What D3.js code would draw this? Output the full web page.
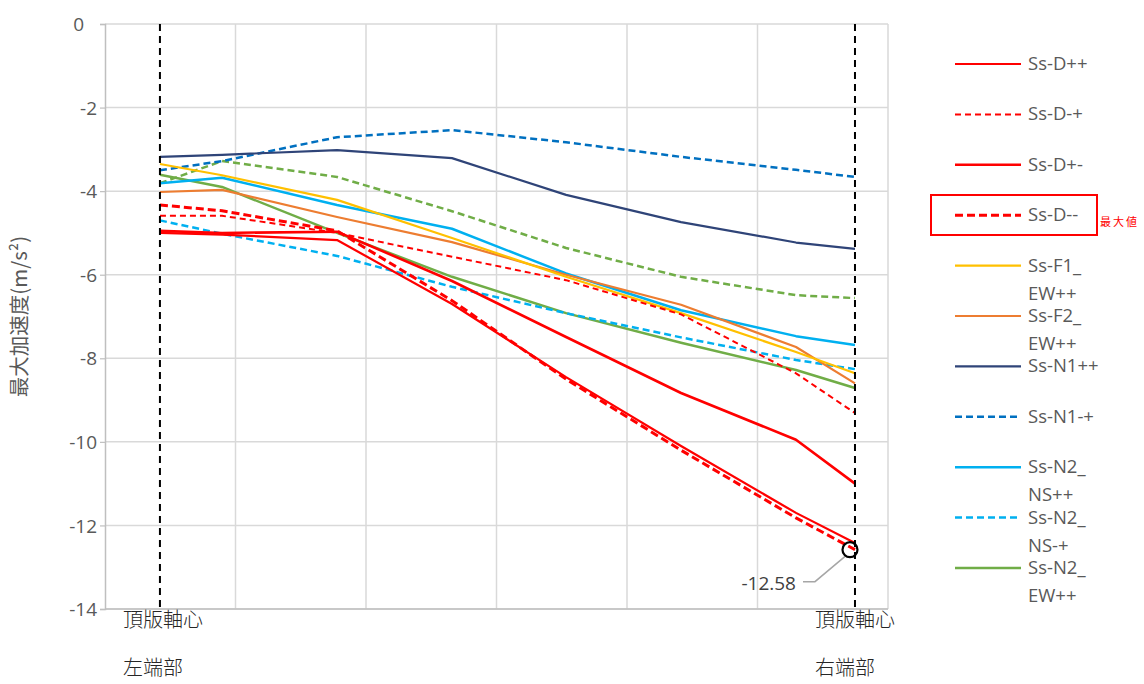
<!DOCTYPE html>
<html><head><meta charset="utf-8">
<script src="https://cdn.jsdelivr.net/npm/d3@7"></script>
<style>body{margin:0;background:#fff;}svg{display:block;font-family:"Open Sans","Noto Sans",sans-serif;}</style>
</head><body><svg id="c" width="1144" height="684"></svg>
<script>
// positions along the slab (axis units; gridlines at integers)
const positions = [0.421, 0.897, 1.778, 2.659, 3.533, 4.414, 5.295, 5.747];
const seriesNames = ["Ss-D++","Ss-D-+","Ss-D+-","Ss-D--","Ss-F1_EW++","Ss-F2_EW++","Ss-N1++","Ss-N1-+","Ss-N2_NS++","Ss-N2_NS-+","Ss-N2_EW++","Ss-N2_EW-+"];
const sD_pp  = [-5.00,-5.04,-5.17,-6.70,-8.45,-10.10,-11.70,-12.42];
const sD_mp  = [-4.59,-4.59,-5.00,-5.57,-6.13,-6.95,-8.36,-9.31];
const sD_pm  = [-4.95,-5.00,-4.97,-6.15,-7.49,-8.83,-9.95,-11.00];
const sD_mm  = [-4.33,-4.47,-4.95,-6.62,-8.50,-10.20,-11.82,-12.58];
const sF1_EW = [-3.35,-3.62,-4.21,-5.12,-6.05,-6.92,-7.85,-8.36];
const sF2_EW = [-4.02,-3.97,-4.62,-5.22,-6.00,-6.72,-7.73,-8.60];
const sN1_pp = [-3.18,-3.13,-3.02,-3.21,-4.09,-4.74,-5.23,-5.38];
const sN1_mp = [-3.50,-3.28,-2.71,-2.54,-2.83,-3.18,-3.49,-3.66];
const sN2_NS = [-3.81,-3.68,-4.33,-4.90,-5.97,-6.85,-7.47,-7.68];
const sN2_NSm= [-4.70,-5.02,-5.55,-6.29,-6.92,-7.50,-8.04,-8.26];
const sN2_EW = [-3.61,-3.90,-5.00,-6.05,-6.92,-7.63,-8.28,-8.71];
const sN2_EWm= [-3.81,-3.28,-3.66,-4.48,-5.36,-6.05,-6.49,-6.56];
const yTicks = [0,-2,-4,-6,-8,-10,-12,-14];
const legendLabels = [["Ss-D++"],["Ss-D-+"],["Ss-D+-"],["Ss-D--"],["Ss-F1_","EW++"],["Ss-F2_","EW++"],["Ss-N1++"],["Ss-N1-+"],["Ss-N2_","NS++"],["Ss-N2_","NS-+"],["Ss-N2_","EW++"]];
const maxValue = -12.58;

const values = [sD_pp,sD_mp,sD_pm,sD_mm,sF1_EW,sF2_EW,sN1_pp,sN1_mp,sN2_NS,sN2_NSm,sN2_EW,sN2_EWm];
const styles = [
  {c:"#ff0000",w:2.2,d:null},
  {c:"#ff0000",w:2,d:"6,4"},
  {c:"#ff0000",w:2.6,d:null},
  {c:"#ff0000",w:3,d:"8,4"},
  {c:"#ffc000",w:2.2,d:null},
  {c:"#ed7d31",w:2.2,d:null},
  {c:"#2f4478",w:2.2,d:null},
  {c:"#0070c0",w:2.5,d:"7,4"},
  {c:"#00b0f0",w:2.5,d:null},
  {c:"#00b0f0",w:2.5,d:"7,4"},
  {c:"#70ad47",w:2.5,d:null},
  {c:"#70ad47",w:2.5,d:"7,4"}
];

const svg = d3.select("#c");
const L=105,R=888,T=24,B=609;
const x = d3.scaleLinear().domain([0,6]).range([L,R]);
const y = d3.scaleLinear().domain([-14,0]).range([B,T]);

// gridlines
const g = svg.append("g");
g.selectAll("line.h").data(yTicks).join("line").attr("x1",L).attr("x2",R)
 .attr("y1",d=>y(d)).attr("y2",d=>y(d)).attr("stroke","#d9d9d9").attr("stroke-width",1.5);
g.selectAll("line.v").data(d3.range(1,7)).join("line").attr("y1",T).attr("y2",B)
 .attr("x1",d=>x(d)).attr("x2",d=>x(d)).attr("stroke","#d9d9d9").attr("stroke-width",1.5);

// y axis
const ya = svg.append("g").attr("transform",`translate(${L},0)`)
 .call(d3.axisLeft(y).tickValues(yTicks).tickSize(5).tickPadding(3).tickFormat(d=>String(d)));
ya.select(".domain").attr("stroke","#bfbfbf").attr("stroke-width",1.5);
ya.selectAll(".tick line").attr("stroke","#bfbfbf").attr("stroke-width",1.2);
ya.selectAll(".tick text").attr("fill","#595959").style("font-size","19px").style("font-family","'Open Sans','Noto Sans',sans-serif").attr("dy","0.35em")
 .attr("dx",d=>d===0?-13:0);
// x axis line
svg.append("line").attr("x1",L).attr("x2",R).attr("y1",B).attr("y2",B).attr("stroke","#bfbfbf").attr("stroke-width",1.5);

// y title
svg.append("text").attr("transform",`translate(27,${(T+B)/2}) rotate(-90)`).attr("text-anchor","middle")
 .attr("fill","#595959").style("font-size","20.5px").style("font-family","'Noto Sans CJK JP','Noto Sans',sans-serif")
 .text("最大加速度(m/s²)");

// series
const line = d3.line().x((d,i)=>x(positions[i])).y(d=>y(d));
const order = [11,10,9,8,7,6,5,4,1,0,2,3];
svg.append("g").selectAll("path").data(order).join("path")
 .attr("d",i=>line(values[i])).attr("fill","none")
 .attr("stroke",i=>styles[i].c).attr("stroke-width",i=>styles[i].w)
 .attr("stroke-dasharray",i=>styles[i].d).attr("stroke-linejoin","round");

// end dashed verticals
[positions[0],positions[positions.length-1]].forEach(p=>{
  svg.append("line").attr("x1",x(p)).attr("x2",x(p)).attr("y1",T).attr("y2",B)
   .attr("stroke","#000").attr("stroke-width",2).attr("stroke-dasharray","7,5");
});

// bottom labels
const lab = svg.append("g").style("font-family","'Noto Sans CJK TC','Noto Sans CJK JP',sans-serif").style("font-size","20px").style("font-weight","300").attr("fill","#262626");
lab.append("text").attr("x",123).attr("y",627).text("頂版軸心");
lab.append("text").attr("x",123).attr("y",675).text("左端部");
lab.append("text").attr("x",815).attr("y",627).text("頂版軸心");
lab.append("text").attr("x",815).attr("y",675).text("右端部");

// annotation
const cx = x(positions[7])-5, cy = y(maxValue);
svg.append("polyline").attr("points",`${cx-4},${cy+6} ${cx-35},${cy+32} ${cx-47},${cy+32}`)
 .attr("fill","none").attr("stroke","#a6a6a6").attr("stroke-width",1.5);
svg.append("circle").attr("cx",cx).attr("cy",cy).attr("r",7.5).attr("fill","none").attr("stroke","#000").attr("stroke-width",2.2);
svg.append("text").attr("x",cx-54).attr("y",cy+40).attr("text-anchor","end").attr("fill","#404040")
 .style("font-size","19px").text(String(maxValue));

// legend
const leg = svg.append("g");
const ly0 = 64, lstep = 50.4;
legendLabels.forEach((lbl,i)=>{
  const yy = ly0 + i*lstep;
  const s = styles[i];
  leg.append("line").attr("x1",955).attr("x2",1021).attr("y1",yy).attr("y2",yy)
   .attr("stroke",s.c).attr("stroke-width",s.w).attr("stroke-dasharray",s.d);
  const t = leg.append("text").attr("x",1028).attr("y",yy+6).attr("fill","#595959").style("font-size","18.5px");
  lbl.forEach((s2,j)=>t.append("tspan").attr("x",1028).attr("dy",j===0?0:28).text(s2));
});
// highlight box
svg.append("rect").attr("x",931).attr("y",195).attr("width",166).attr("height",40)
 .attr("fill","none").attr("stroke","#ff0000").attr("stroke-width",2);
svg.append("text").attr("x",1100).attr("y",226).attr("fill","#ff0000").style("font-size","11px")
 .style("letter-spacing","2px").style("font-family","'Noto Sans CJK JP',sans-serif").text("最大値");
</script></body></html>
